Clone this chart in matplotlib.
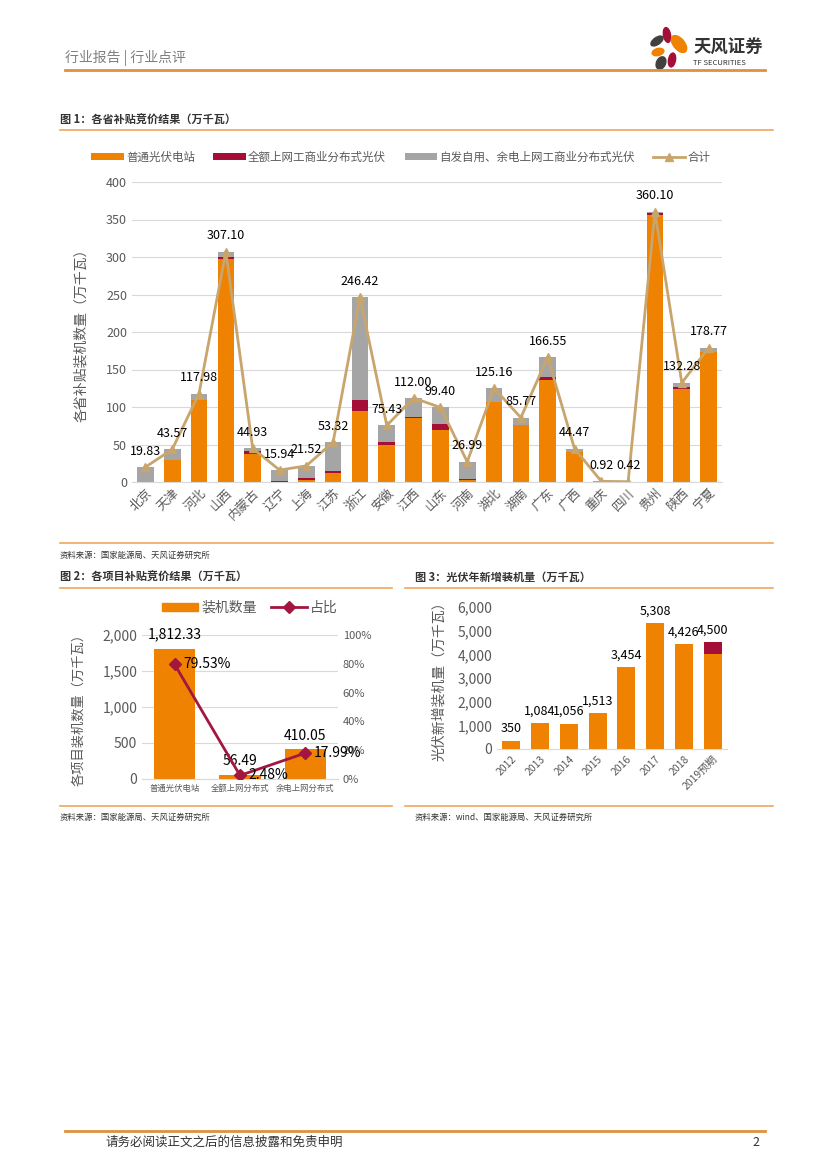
import numpy as np
import matplotlib.pyplot as plt
from matplotlib.patches import Ellipse, Patch
from matplotlib.lines import Line2D

plt.rcParams['font.family'] = ['Noto Sans CJK SC', 'DejaVu Sans']

W, H = 827, 1170

ORANGE = '#EF8200'
RED = '#A50F37'
GRAY = '#A5A5A5'
TAN = '#C8A56C'
LINE2 = '#A3163F'
TXT = '#595959'
GRID = '#D9D9D9'

# 图1 各省补贴竞价结果
provinces = ['北京', '天津', '河北', '山西', '内蒙古', '辽宁', '上海', '江苏', '浙江', '安徽', '江西',
             '山东', '河南', '湖北', '湖南', '广东', '广西', '重庆', '四川', '贵州', '陕西', '宁夏']
station = [0, 29, 109, 297, 38, 0, 3, 12, 95, 49, 85, 70, 3, 106.7, 75.6, 136.4, 40, 0, 0, 355.6, 124.4, 173.3]
full_grid = [0, 0, 0.5, 3, 4, 1, 2, 3, 14, 4.4, 1.5, 7.1, 1.5, 0, 0, 3.5, 0, 0, 0, 3, 2, 0]
self_use = [19.83, 14.57, 8.48, 7.1, 2.93, 14.94, 16.52, 38.32, 137.42, 22.03, 25.5, 22.3, 22.49,
            18.46, 10.17, 26.65, 4.47, 0.92, 0.42, 1.5, 5.88, 5.47]
totals = [19.83, 43.57, 117.98, 307.10, 44.93, 15.94, 21.52, 53.32, 246.42, 75.43, 112.00, 99.40,
          26.99, 125.16, 85.77, 166.55, 44.47, 0.92, 0.42, 360.10, 132.28, 178.77]

# 图2 各项目补贴竞价结果
proj_names = ['普通光伏电站', '全额上网分布式', '余电上网分布式']
proj_cap = [1812.33, 56.49, 410.05]
proj_share = [79.53, 2.48, 17.99]

# 图3 光伏年新增装机量
years = ['2012', '2013', '2014', '2015', '2016', '2017', '2018', '2019预期']
new_base = [350, 1084, 1056, 1513, 3454, 5308, 4426, 4000]
new_extra = [0, 0, 0, 0, 0, 0, 0, 500]
new_total = [350, 1084, 1056, 1513, 3454, 5308, 4426, 4500]

fig = plt.figure(figsize=(W / 100, H / 100), dpi=100)


def rect(x0, y0, x1, y1):
    return [x0 / W, 1 - y1 / H, (x1 - x0) / W, (y1 - y0) / H]


# page background in pixel coordinates
page = fig.add_axes([0, 0, 1, 1])
page.set_xlim(0, W)
page.set_ylim(H, 0)
page.axis('off')

# header
page.text(65, 58, '行业报告 | 行业点评', fontsize=10, color='#7F7F7F', va='center')
page.plot([65, 765], [70, 70], color='#E0913A', lw=2)
# logo petals
for (cx, cy, w, h, ang, c) in [(667, 35, 7, 15, -10, RED), (657, 41, 7, 14, 55, '#404040'),
                               (679, 44, 11, 20, -40, ORANGE), (658, 52, 7, 12, 75, ORANGE),
                               (672, 60, 7, 14, 10, RED), (661, 63, 9, 13, 25, '#404040')]:
    page.add_patch(Ellipse((cx, cy), w, h, angle=ang, color=c))
page.text(693, 48, '天风证券', fontsize=12.5, color='#333333', va='center', fontweight='bold')
page.text(693, 63, 'TF SECURITIES', fontsize=5.5, color='#333333', va='center')

# section titles / rules
page.text(60, 120, '图 1：各省补贴竞价结果（万千瓦）', fontsize=8, color='#333333', va='center', fontweight='bold')
page.plot([60, 773], [130, 130], color='#F2A65A', lw=1.2)
page.plot([60, 773], [543, 543], color='#F2A65A', lw=1.2)
page.text(60, 555, '资料来源：国家能源局、天风证券研究所', fontsize=6, color='#333333', va='center')

page.text(60, 577, '图 2：各项目补贴竞价结果（万千瓦）', fontsize=8, color='#333333', va='center', fontweight='bold')
page.text(415, 577, '图 3：光伏年新增装机量（万千瓦）', fontsize=8, color='#333333', va='center', fontweight='bold')
for x0, x1 in [(60, 392), (405, 773)]:
    page.plot([x0, x1], [588, 588], color='#F2A65A', lw=1.2)
    page.plot([x0, x1], [806, 806], color='#F2A65A', lw=1.2)
page.text(60, 817, '资料来源：国家能源局、天风证券研究所', fontsize=6, color='#333333', va='center')
page.text(415, 817, '资料来源：wind、国家能源局、天风证券研究所', fontsize=6, color='#333333', va='center')

# footer
page.plot([65, 765], [1131, 1131], color='#E0913A', lw=2)
page.text(105, 1142, '请务必阅读正文之后的信息披露和免责申明', fontsize=9, color='#333333', va='center')
page.text(752, 1142, '2', fontsize=9, color='#333333', va='center')


def style_axis(ax):
    for s in ['top', 'right', 'left']:
        ax.spines[s].set_visible(False)
    ax.spines['bottom'].set_color(GRID)
    ax.grid(axis='y', color=GRID, lw=0.8)
    ax.set_axisbelow(True)
    ax.tick_params(length=0, colors=TXT)


# ---- chart 1 ----
ax1 = fig.add_axes(rect(132, 182, 722, 482))
x = np.arange(len(provinces))
st = np.array(station)
fg = np.array(full_grid)
su = np.array(self_use)
b1 = ax1.bar(x, st, 0.62, color=ORANGE)
b2 = ax1.bar(x, fg, 0.62, bottom=st, color=RED)
b3 = ax1.bar(x, su, 0.62, bottom=st + fg, color=GRAY)
ln, = ax1.plot(x, totals, color=TAN, lw=2, marker='^', markersize=6)
for xi, v in zip(x, totals):
    ax1.annotate(f'{v:.2f}', (xi, v), xytext=(0, 11.5), textcoords='offset points',
                 ha='center', va='center', fontsize=9, color='black')
ax1.set_xlim(-0.5, len(provinces) - 0.5)
ax1.set_ylim(0, 400)
ax1.set_yticks(np.arange(0, 401, 50))
ax1.set_xticks(x)
ax1.set_xticklabels(provinces, rotation=45, ha='right', rotation_mode='anchor', fontsize=9)
style_axis(ax1)
ax1.tick_params(axis='y', labelsize=9)
ax1.set_ylabel('各省补贴装机数量（万千瓦）', fontsize=10, color=TXT)
ax1.yaxis.set_label_coords(-0.075, 0.5)
ax1.legend([b1, b2, b3, ln], ['普通光伏电站', '全额上网工商业分布式光伏', '自发自用、余电上网工商业分布式光伏', '合计'],
           loc='center', bbox_to_anchor=(0.456, 1.083), ncol=4, frameon=False, fontsize=8.3,
           labelcolor=TXT, handlelength=2.8, handleheight=0.45, columnspacing=1.6, handletextpad=0.2)

# ---- chart 2 ----
ax2 = fig.add_axes(rect(142, 635, 338, 779))
x2 = np.arange(len(proj_names))
ax2.bar(x2, proj_cap, 0.63, color=ORANGE)
for xi, v in zip(x2, proj_cap):
    ax2.annotate(f'{v:,.2f}', (xi, v), xytext=(0, 10), textcoords='offset points',
                 ha='center', va='center', fontsize=10, color='black')
ax2.set_xlim(-0.5, 2.5)
ax2.set_ylim(0, 2000)
ax2.set_yticks(np.arange(0, 2001, 500))
ax2.set_yticklabels([f'{v:,}' for v in range(0, 2001, 500)])
ax2.set_xticks(x2)
ax2.set_xticklabels(proj_names, fontsize=6)
style_axis(ax2)
ax2.tick_params(axis='y', labelsize=10)
ax2.set_ylabel('各项目装机数量（万千瓦）', fontsize=9.5, color=TXT)
ax2.yaxis.set_label_coords(-0.29, 0.5)

ax2b = ax2.twinx()
ax2b.plot(x2, proj_share, color=LINE2, lw=2, marker='D', markersize=6)
for xi, v in zip(x2, proj_share):
    ax2b.annotate(f'{v:.2f}%', (xi, v), xytext=(6, 0), textcoords='offset points',
                  ha='left', va='center', fontsize=10, color='black')
ax2b.set_ylim(0, 100)
ax2b.set_yticks(np.arange(0, 101, 20))
ax2b.set_yticklabels([f'{v}%' for v in range(0, 101, 20)])
for s in ax2b.spines.values():
    s.set_visible(False)
ax2b.tick_params(length=0, colors=TXT, labelsize=8)
handles = [Patch(color=ORANGE), Line2D([], [], color=LINE2, lw=2, marker='D', markersize=6)]
ax2.legend(handles, ['装机数量', '占比'], loc='center', bbox_to_anchor=(0.55, 1.19), ncol=2,
           frameon=False, fontsize=10, labelcolor=TXT, handlelength=2.6, handleheight=0.5,
           columnspacing=1.0, handletextpad=0.2)

# ---- chart 3 ----
ax3 = fig.add_axes(rect(497, 607, 727, 749))
x3 = np.arange(len(years))
ax3.bar(x3, new_base, 0.63, color=ORANGE)
ax3.bar(x3, new_extra, 0.63, bottom=new_base, color=RED)
for xi, v in zip(x3, new_total):
    ax3.annotate(f'{v:,}', (xi, v), xytext=(0, 9), textcoords='offset points',
                 ha='center', va='center', fontsize=9, color='black')
ax3.set_xlim(-0.5, len(years) - 0.5)
ax3.set_ylim(0, 6000)
ax3.set_yticks(np.arange(0, 6001, 1000))
ax3.set_yticklabels([f'{v:,}' for v in range(0, 6001, 1000)])
ax3.set_xticks(x3)
ax3.set_xticklabels(years, rotation=45, ha='right', rotation_mode='anchor', fontsize=7.5)
style_axis(ax3)
ax3.grid(False)
ax3.tick_params(axis='y', labelsize=10)
ax3.set_ylabel('光伏新增装机量（万千瓦）', fontsize=10, color=TXT)
ax3.yaxis.set_label_coords(-0.22, 0.5)

fig.savefig('out.png', dpi=100)
